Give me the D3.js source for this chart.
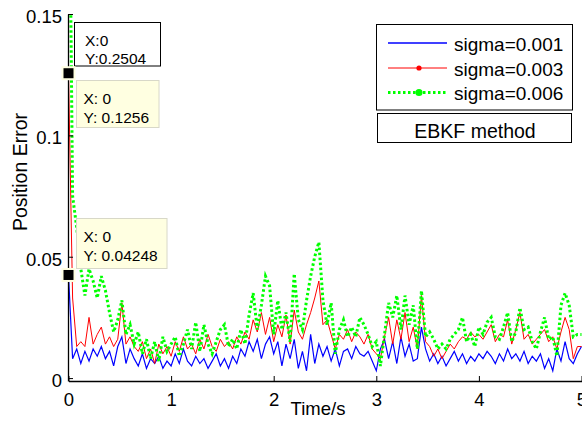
<!DOCTYPE html>
<html>
<head>
<meta charset="utf-8">
<script src="https://cdn.jsdelivr.net/npm/d3@7"></script>
<style>
  body { margin: 0; background: #fff; }
  svg { display: block; font-family: "Liberation Sans", Arial, sans-serif; }
</style>
</head>
<body>
<script>
// position error, values in units of 1e-3, sampled every 0.04 s from 0 to 5 s
const sampleStep = 0.04;

const errSigma001 = [
  42.5, 8, 12, 6, 11, 7, 12, 9, 13, 8,
  11, 5, 13, 17, 6, 12, 8, 5, 10, 4,
  8, 6, 9, 4, 7, 5, 10, 6, 12, 7,
  5, 9, 6, 8, 4, 7, 10, 5, 8, 4,
  9, 6, 12, 9, 15, 11, 16, 8, 14, 17,
  10, 15, 5, 14, 8, 16, 4, 11, 3, 18,
  6, 14, 9, 13, 7, 12, 5, 11, 12, 8,
  13, 10, 9, 11, 7, 3, 12, 16, 8, 15,
  6, 17, 9, 14, 7, 8, 21, 12, 7, 10,
  6, 9, 5, 8, 11, 7, 10, 6, 9, 7,
  10, 8, 11, 9, 6, 10, 7, 12, 8, 10,
  7, 11, 6, 9, 7, 10, 4, 8, 3, 12,
  7, 15, 8, 6, 10, 13
];

const errSigma003 = [
  125.6, 33, 13, 15, 13, 25, 14, 18, 21, 14,
  17, 13, 16, 31, 14, 17, 13, 11, 15, 8,
  12, 6, 14, 10, 13, 9, 15, 11, 17, 12,
  14, 10, 16, 12, 18, 13, 11, 16, 13, 15,
  12, 17, 14, 19, 16, 24, 19, 27, 18, 25,
  15, 22, 17, 26, 14, 28, 19, 16, 22, 27,
  33, 40, 22, 24, 18, 12, 18, 16, 20, 15,
  19, 17, 14, 18, 12, 10, 8, 17, 25, 14,
  24, 16, 27, 15, 21, 12, 34, 15, 13, 9,
  12, 8, 11, 14, 12, 15, 17, 16, 19, 17,
  18, 16, 19, 22, 15, 18, 17, 24, 14, 20,
  27, 16, 18, 14, 16, 18, 20, 15, 17, 12,
  19, 25, 20, 8, 13, 13
];

const errSigma006 = [
  250.4, 75, 62, 45, 34, 45, 40, 33, 42, 36,
  27, 19, 24, 32, 18, 22, 14, 19, 10, 16,
  8, 15, 7, 17, 11, 14, 17, 9, 14, 20,
  12, 23, 11, 22, 14, 10, 15, 20, 22, 13,
  16, 12, 20, 14, 26, 35, 20, 30, 42, 38,
  18, 32, 20, 27, 15, 43, 24, 20, 32, 42,
  50, 56, 32, 22, 31, 10, 20, 24, 17, 21,
  17, 25, 22, 18, 13, 15, 5, 18, 31, 25,
  34, 20, 34, 22, 30, 12, 36, 17, 19, 16,
  12, 14, 12, 16, 18, 20, 25, 15, 18, 13,
  21, 18, 23, 25, 17, 16, 21, 27, 15, 19,
  29, 20, 21, 15, 12, 19, 25, 16, 17, 9,
  30, 35, 30, 17, 18, 18
];

const seriesNames = ["sigma=0.001", "sigma=0.003", "sigma=0.006"];
const xTicks = [0, 1, 2, 3, 4, 5];
const yTicks = [0, 0.05, 0.1, 0.15];

// data tips
const tipTop = ["X:0", "Y:0.2504"];
const tipMid = { x: 0, y: 0.1256, lines: ["X: 0", "Y: 0.1256"] };
const tipLow = { x: 0, y: 0.04248, lines: ["X: 0", "Y: 0.04248"] };

const width = 582;
const height = 421;

const svg = d3.select("body").append("svg")
  .attr("width", width)
  .attr("height", height);

const x = d3.scaleLinear().domain([0, 5]).range([68.5, 581.5]);
const y = d3.scaleLinear().domain([-0.0012, 0.15]).range([381, 14]);

svg.append("defs").append("clipPath").attr("id", "plotclip")
  .append("rect")
  .attr("x", x(0) - 1).attr("y", y(0.15))
  .attr("width", width - x(0) + 1).attr("height", y(-0.0012) - y(0.15));

const toPoints = (arr) => arr.map((v, i) => [i * sampleStep, v / 1000]);

const line = d3.line()
  .x(d => x(d[0]))
  .y(d => y(d[1]));

const plot = svg.append("g").attr("clip-path", "url(#plotclip)");

plot.append("path")
  .datum(toPoints(errSigma001))
  .attr("d", line)
  .attr("fill", "none")
  .attr("stroke", "#0000ff")
  .attr("stroke-width", 1.2);

plot.append("path")
  .datum(toPoints(errSigma003))
  .attr("d", line)
  .attr("fill", "none")
  .attr("stroke", "#ff0000")
  .attr("stroke-width", 1);

plot.append("path")
  .datum(toPoints(errSigma006))
  .attr("d", line)
  .attr("fill", "none")
  .attr("stroke", "#00ff00")
  .attr("stroke-width", 3)
  .attr("stroke-dasharray", "2.5,2.5");

// axes (matlab style, ticks inside)
const xAxis = svg.append("g")
  .attr("transform", `translate(0,${y(-0.0012)})`)
  .call(d3.axisBottom(x).tickValues(xTicks).tickSizeInner(-5).tickSizeOuter(0).tickPadding(12)
    .tickFormat(d => String(d)));

const yAxis = svg.append("g")
  .attr("transform", `translate(${x(0) - 0.5},0)`)
  .call(d3.axisLeft(y).tickValues(yTicks).tickSizeInner(-5).tickSizeOuter(0).tickPadding(6)
    .tickFormat(d => String(d)));

[xAxis, yAxis].forEach(a => {
  a.select(".domain").attr("stroke", "#000").attr("stroke-width", 1.3);
  a.selectAll(".tick line").attr("stroke", "#000");
  a.selectAll(".tick text")
    .attr("fill", "#000")
    .style("font-size", "18.5px")
    .style("font-family", "'Liberation Sans', Arial, sans-serif");
});
xAxis.selectAll(".tick text").attr("dy", "0.71em");
yAxis.selectAll(".tick text").attr("dy", "0.45em");

svg.append("text")
  .attr("x", 318)
  .attr("y", 408)
  .attr("text-anchor", "middle")
  .attr("dominant-baseline", "central")
  .style("font-size", "18.5px")
  .text("Time/s");

svg.append("text")
  .attr("transform", "translate(20,172) rotate(-90)")
  .attr("text-anchor", "middle")
  .attr("dominant-baseline", "central")
  .style("font-size", "19.5px")
  .text("Position Error");

// legend
const legend = svg.append("g");
legend.append("rect")
  .attr("x", 376.5).attr("y", 24.5)
  .attr("width", 196).attr("height", 85.5)
  .attr("fill", "#fff").attr("stroke", "#000");

const rowY = [43, 68, 92.5];
const legColors = ["#0000ff", "#ff0000", "#00ff00"];

legend.append("line")
  .attr("x1", 388).attr("x2", 447).attr("y1", rowY[0]).attr("y2", rowY[0])
  .attr("stroke", legColors[0]).attr("stroke-width", 1.4);
legend.append("line")
  .attr("x1", 388).attr("x2", 447).attr("y1", rowY[1]).attr("y2", rowY[1])
  .attr("stroke", legColors[1]).attr("stroke-width", 1);
legend.append("circle")
  .attr("cx", 419).attr("cy", rowY[1]).attr("r", 2.6)
  .attr("fill", legColors[1]);
legend.append("line")
  .attr("x1", 388).attr("x2", 447).attr("y1", rowY[2]).attr("y2", rowY[2])
  .attr("stroke", legColors[2]).attr("stroke-width", 3)
  .attr("stroke-dasharray", "2.5,2.5");
legend.append("circle")
  .attr("cx", 419).attr("cy", rowY[2]).attr("r", 3.6)
  .attr("fill", legColors[2]);

legend.selectAll("text.name")
  .data(seriesNames)
  .join("text")
  .attr("class", "name")
  .attr("x", 454)
  .attr("y", (d, i) => rowY[i] + 1)
  .attr("dominant-baseline", "central")
  .style("font-size", "19px")
  .text(d => d);

svg.append("rect")
  .attr("x", 377.5).attr("y", 113.5)
  .attr("width", 194).attr("height", 29)
  .attr("fill", "#fff").attr("stroke", "#000");
svg.append("text")
  .attr("x", 475).attr("y", 131)
  .attr("text-anchor", "middle")
  .attr("dominant-baseline", "central")
  .style("font-size", "19.5px")
  .text("EBKF method");

// data tips
const tip1 = svg.append("g");
tip1.append("rect")
  .attr("x", 74.5).attr("y", 22.5)
  .attr("width", 86).attr("height", 43.5)
  .attr("fill", "#fff").attr("stroke", "#000");
tip1.selectAll("text")
  .data(tipTop)
  .join("text")
  .attr("x", 85)
  .attr("y", (d, i) => 40 + i * 18)
  .attr("dominant-baseline", "central")
  .style("font-size", "15.5px")
  .text(d => d);

function drawTip(tip, boxX, boxY, boxW, boxH) {
  const g = svg.append("g");
  g.append("rect")
    .attr("x", boxX).attr("y", boxY)
    .attr("width", boxW).attr("height", boxH)
    .attr("fill", "#ffffe1").attr("stroke", "#d8d8c8");
  g.selectAll("text")
    .data(tip.lines)
    .join("text")
    .attr("x", boxX + 7)
    .attr("y", (d, i) => boxY + 18 + i * 18.5)
    .attr("dominant-baseline", "central")
    .style("font-size", "15.5px")
    .text(d => d);
  g.append("rect")
    .attr("x", x(tip.x) - 6).attr("y", y(tip.y) - 6)
    .attr("width", 12).attr("height", 12)
    .attr("fill", "#000").attr("stroke", "#ffffe1").attr("stroke-width", 2);
}

drawTip(tipMid, 76.5, 80.5, 82.5, 47);
drawTip(tipLow, 76.5, 218.5, 90.5, 50);
</script>
</body>
</html>
